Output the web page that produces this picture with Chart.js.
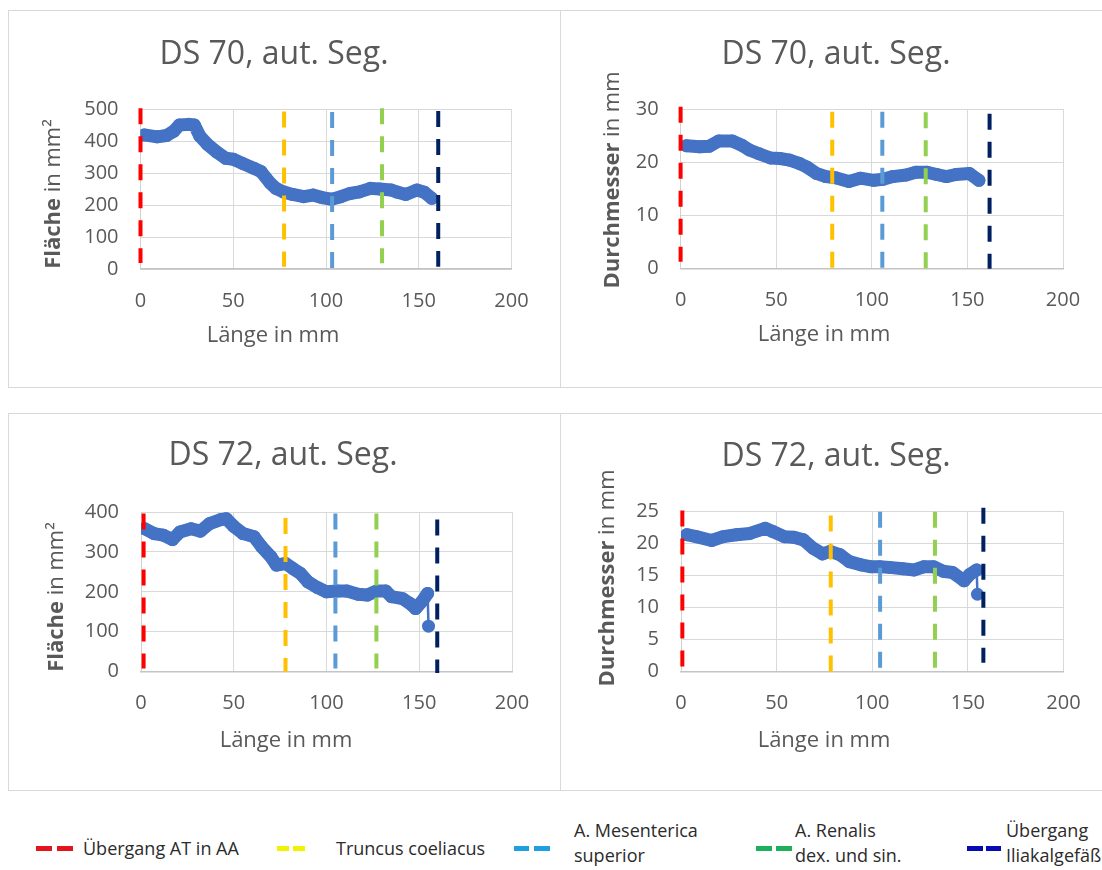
<!DOCTYPE html>
<html lang="de">
<head>
<meta charset="utf-8">
<title>DS 70 / DS 72, aut. Seg.</title>
<script src="https://cdn.jsdelivr.net/npm/chart.js@4.4.1/dist/chart.umd.min.js"></script>
<style>
    html, body { margin: 0; padding: 0; background: #fff; overflow: hidden; }
    body { width: 1102px; height: 870px; position: relative; font-family: 'Open Sans', sans-serif; }
    .frame { position: absolute; border: 1px solid #d9d9d9; box-sizing: border-box; }
    canvas { position: absolute; }
    .dash { position: absolute; height: 5px; }
    .ltext { position: absolute; font-size: 18px; line-height: 25px; color: #2b2b2b; white-space: nowrap; }
</style>
</head>
<body>
<div class="frame" style="left:8px;top:10px;width:553px;height:378px"></div>
<div class="frame" style="left:560px;top:10px;width:560px;height:378px"></div>
<div class="frame" style="left:8px;top:413px;width:553px;height:378px"></div>
<div class="frame" style="left:560px;top:413px;width:560px;height:378px"></div>

<div class="dash" style="left:36px;top:846px;width:16px;background:#e3141c"></div>
<div class="dash" style="left:57px;top:846px;width:16px;background:#e3141c"></div>
<div class="ltext" style="left:83px;top:836px">Übergang AT in AA</div>

<div class="dash" style="left:277px;top:846px;width:12px;background:#f2f200"></div>
<div class="dash" style="left:293px;top:846px;width:12px;background:#f2f200"></div>
<div class="ltext" style="left:336px;top:836px">Truncus coeliacus</div>

<div class="dash" style="left:514px;top:846px;width:15px;background:#1e9fe0"></div>
<div class="dash" style="left:534px;top:846px;width:16px;background:#1e9fe0"></div>
<div class="ltext" style="left:574px;top:818px">A. Mesenterica<br>superior</div>

<div class="dash" style="left:756px;top:846px;width:16px;background:#1db05a"></div>
<div class="dash" style="left:776px;top:846px;width:16px;background:#1db05a"></div>
<div class="ltext" style="left:795px;top:818px">A. Renalis<br>dex. und sin.</div>

<div class="dash" style="left:967px;top:846px;width:16px;background:#0a0ab4"></div>
<div class="dash" style="left:986px;top:846px;width:15px;background:#0a0ab4"></div>
<div class="ltext" style="left:1006px;top:818px">Übergang<br>Iliakalgefäße</div>

<script>
// DS 70 – Fläche (mm²) über Länge (mm)
const len70A = [2, 9, 14, 18, 21, 26, 29, 32, 36, 41, 46, 50, 55, 61, 65, 70, 73, 77, 82, 88, 93, 98, 103, 108, 113, 118, 124, 129, 135, 138, 143, 149, 153, 157];
const area70 = [419, 413, 417, 431, 450, 452, 450, 415, 390, 366, 346, 343, 330, 315, 304, 268, 252, 241, 233, 226, 231, 223, 218, 226, 236, 241, 252, 250, 247, 241, 233, 247, 240, 221];

// DS 70 – Durchmesser (mm)
const len70D = [3, 10, 15, 20, 27, 32, 36, 41, 47, 52, 57, 62, 66, 71, 76, 81, 88, 94, 101, 106, 111, 118, 123, 129, 134, 139, 144, 151, 156];
const diam70 = [23.1, 22.9, 23.0, 24.0, 24.0, 23.2, 22.3, 21.6, 20.8, 20.7, 20.4, 19.8, 19.1, 17.9, 17.3, 17.1, 16.4, 17.0, 16.6, 16.8, 17.3, 17.6, 18.1, 18.1, 17.7, 17.3, 17.7, 17.9, 16.6];

// DS 72 – Fläche
const len72A = [2, 7, 12, 17, 21, 27, 32, 37, 43, 46, 50, 55, 61, 65, 70, 73, 78, 82, 86, 90, 95, 100, 106, 111, 117, 122, 127, 132, 135, 141, 145, 148, 152, 154.5, 155];
const area72 = [358, 346, 342, 331, 350, 358, 352, 371, 381, 383, 364, 346, 338, 313, 288, 267, 271, 258, 246, 225, 211, 200, 202, 202, 194, 192, 202, 202, 188, 183, 171, 158, 179, 196, 114];

// DS 72 – Durchmesser
const len72D = [3, 8, 16, 22, 29, 36, 44, 48, 54, 59, 64, 69, 74, 78, 83, 88, 94, 99, 104, 109, 116, 122, 127, 132, 137, 142, 148, 151, 154.6, 155];
const diam72 = [21.4, 21.1, 20.5, 21.1, 21.4, 21.6, 22.4, 21.9, 21.1, 21.0, 20.6, 19.3, 18.4, 18.8, 18.3, 17.2, 16.7, 16.4, 16.4, 16.3, 16.1, 15.9, 16.4, 16.4, 15.7, 15.5, 14.2, 15.2, 15.9, 12.1];

// Landmarken (gestrichelte Linien): Position in mm, oberes und unteres Ende
const landmarkNames = ['Übergang AT in AA', 'Truncus coeliacus', 'A. Mesenterica superior', 'A. Renalis dex. und sin.', 'Übergang Iliakalgefäße'];
const mark70A = [0, 77.4, 103.3, 130.2, 160.5];
const top70A = [502, 492, 491, 502, 494];
const bot70A = [19, 7, 2, 18, 7];
const mark70D = [0, 79.3, 105.5, 128.2, 161.6];
const top70D = [30.4, 29.5, 29.5, 29.4, 29.1];
const bot70D = [1.3, 0, 0, 0, 0];
const mark72A = [1.4, 77.9, 104.8, 126.9, 159.7];
const top72A = [396, 385, 396, 396, 381];
const bot72A = [8, 0, 8, 8, -3];
const mark72D = [0.7, 78.3, 104.1, 132.8, 158.1];
const top72D = [25.2, 24.4, 25, 25, 25.6];
const bot72D = [0.8, 0, 0, 0, 1.4];

const markColors = ['#ff0000', '#ffc000', '#5b9bd5', '#92d050', '#002060'];
const seriesColor = '#4472c4';
const textColor = '#595959';

Chart.defaults.font.family = "'Open Sans', sans-serif";
Chart.defaults.color = textColor;

// Titel, Achsentitel (y-Titel teilweise fett) direkt auf die Canvas
const panelText = {
    id: 'panelText',
    afterDraw(chart, args, o) {
        const ctx = chart.ctx;
        ctx.save();
        ctx.fillStyle = textColor;
        ctx.textBaseline = 'middle';
        ctx.textAlign = 'center';
        ctx.font = "32px 'Open Sans'";
        ctx.fillText(o.title, o.titlePos[0], o.titlePos[1]);
        ctx.font = "22px 'Open Sans'";
        ctx.fillText('Länge in mm', o.xTitlePos[0], o.xTitlePos[1]);

        ctx.translate(o.yTitlePos[0], o.yTitlePos[1]);
        ctx.rotate(-Math.PI / 2);
        ctx.textAlign = 'left';
        ctx.font = "bold 22px 'Open Sans'";
        const wb = ctx.measureText(o.yBold).width;
        ctx.font = "22px 'Open Sans'";
        const wr = ctx.measureText(o.yRest).width;
        const start = -(wb + wr) / 2;
        ctx.font = "bold 22px 'Open Sans'";
        ctx.fillText(o.yBold, start, 0);
        ctx.font = "22px 'Open Sans'";
        ctx.fillText(o.yRest, start + wb, 0);
        ctx.restore();
    },
};

function landmarkSets(pos, tops, bottoms) {
    return pos.map((x, i) => ({
        label: landmarkNames[i],
        data: [{ x: x, y: tops[i] }, { x: x, y: bottoms[i] }],
        borderColor: markColors[i],
        borderWidth: 4,
        borderDash: [16, 12],
        pointRadius: 0,
        clip: false,
        order: 0,
    }));
}

function makePanel(p) {
    const box = p.box, area = p.area;
    const canvas = document.createElement('canvas');
    canvas.width = box.w;
    canvas.height = box.h;
    canvas.style.left = box.x + 'px';
    canvas.style.top = box.y + 'px';
    document.body.appendChild(canvas);

    const rel = (pt) => [pt[0] - box.x, pt[1] - box.y];
    // dichte Marker wirken als breites Band; nur ein steiler Sprung bleibt dünn
    const curve = {
        label: p.yBold,
        data: p.lengths.map((x, i) => ({ x: x, y: p.values[i] })),
        borderColor: seriesColor,
        backgroundColor: seriesColor,
        borderWidth: 13,
        borderJoinStyle: 'round',
        borderCapStyle: 'round',
        segment: {
            borderWidth: (c) => (Math.abs(c.p1.y - c.p0.y) > 18 ? 2.5 : 13),
        },
        pointRadius: 6.5,
        pointBorderWidth: 0,
        pointBackgroundColor: seriesColor,
        order: 1,
    };

    new Chart(canvas, {
        type: 'line',
        data: { datasets: landmarkSets(p.marks, p.markTop, p.markBottom).concat([curve]) },
        options: {
            responsive: false,
            animation: false,
            events: [],
            layout: { padding: { left: 0, bottom: 0, top: area.t - box.y, right: box.x + box.w - area.r } },
            plugins: {
                legend: { display: false },
                tooltip: { enabled: false },
                panelText: {
                    title: p.title,
                    titlePos: rel(p.titlePos),
                    xTitlePos: rel(p.xTitlePos),
                    yTitlePos: rel(p.yTitlePos),
                    yBold: p.yBold,
                    yRest: p.yRest,
                },
            },
            scales: {
                x: {
                    type: 'linear', min: 0, max: 200,
                    ticks: { stepSize: 50, padding: 20, font: { size: 20 }, maxRotation: 0 },
                    grid: { color: '#d9d9d9', drawTicks: false },
                    border: { color: '#c4c4c4', width: 1.5 },
                    afterFit: (s) => { s.height = box.y + box.h - area.b; s.paddingLeft = 0; s.paddingRight = 0; },
                },
                y: {
                    type: 'linear', min: 0, max: p.yMax,
                    ticks: { stepSize: p.yStep, padding: 22, font: { size: 20 } },
                    grid: { color: '#d9d9d9', drawTicks: false },
                    border: { color: '#d0d0d0', width: 1 },
                    afterFit: (s) => { s.width = area.l - box.x; s.paddingTop = 0; s.paddingBottom = 0; },
                },
            },
        },
        plugins: [panelText],
    });
}

const panels = [
    {
        box: { x: 8, y: 10, w: 552, h: 378 }, area: { l: 140.5, t: 109, r: 511.5, b: 269 },
        title: 'DS 70, aut. Seg.', titlePos: [274, 55], xTitlePos: [273, 336], yTitlePos: [54, 194],
        yBold: 'Fläche', yRest: ' in mm²', yMax: 500, yStep: 100,
        lengths: len70A, values: area70, marks: mark70A, markTop: top70A, markBottom: bot70A,
    },
    {
        box: { x: 560, y: 10, w: 542, h: 378 }, area: { l: 680.6, t: 109, r: 1063, b: 268.7 },
        title: 'DS 70, aut. Seg.', titlePos: [836, 55], xTitlePos: [824, 335], yTitlePos: [613, 180],
        yBold: 'Durchmesser', yRest: ' in mm', yMax: 30, yStep: 10,
        lengths: len70D, values: diam70, marks: mark70D, markTop: top70D, markBottom: bot70D,
    },
    {
        box: { x: 8, y: 413, w: 552, h: 378 }, area: { l: 141, t: 512, r: 512, b: 671.7 },
        title: 'DS 72, aut. Seg.', titlePos: [283, 456], xTitlePos: [286, 741], yTitlePos: [57, 597],
        yBold: 'Fläche', yRest: ' in mm²', yMax: 400, yStep: 100,
        lengths: len72A, values: area72, marks: mark72A, markTop: top72A, markBottom: bot72A,
    },
    {
        box: { x: 560, y: 413, w: 542, h: 378 }, area: { l: 681, t: 511.7, r: 1063.5, b: 671.7 },
        title: 'DS 72, aut. Seg.', titlePos: [836, 457], xTitlePos: [824, 741], yTitlePos: [608, 578],
        yBold: 'Durchmesser', yRest: ' in mm', yMax: 25, yStep: 5,
        lengths: len72D, values: diam72, marks: mark72D, markTop: top72D, markBottom: bot72D,
    },
];

document.addEventListener('DOMContentLoaded', function () {
    panels.forEach(makePanel);
});
</script>
</body>
</html>
